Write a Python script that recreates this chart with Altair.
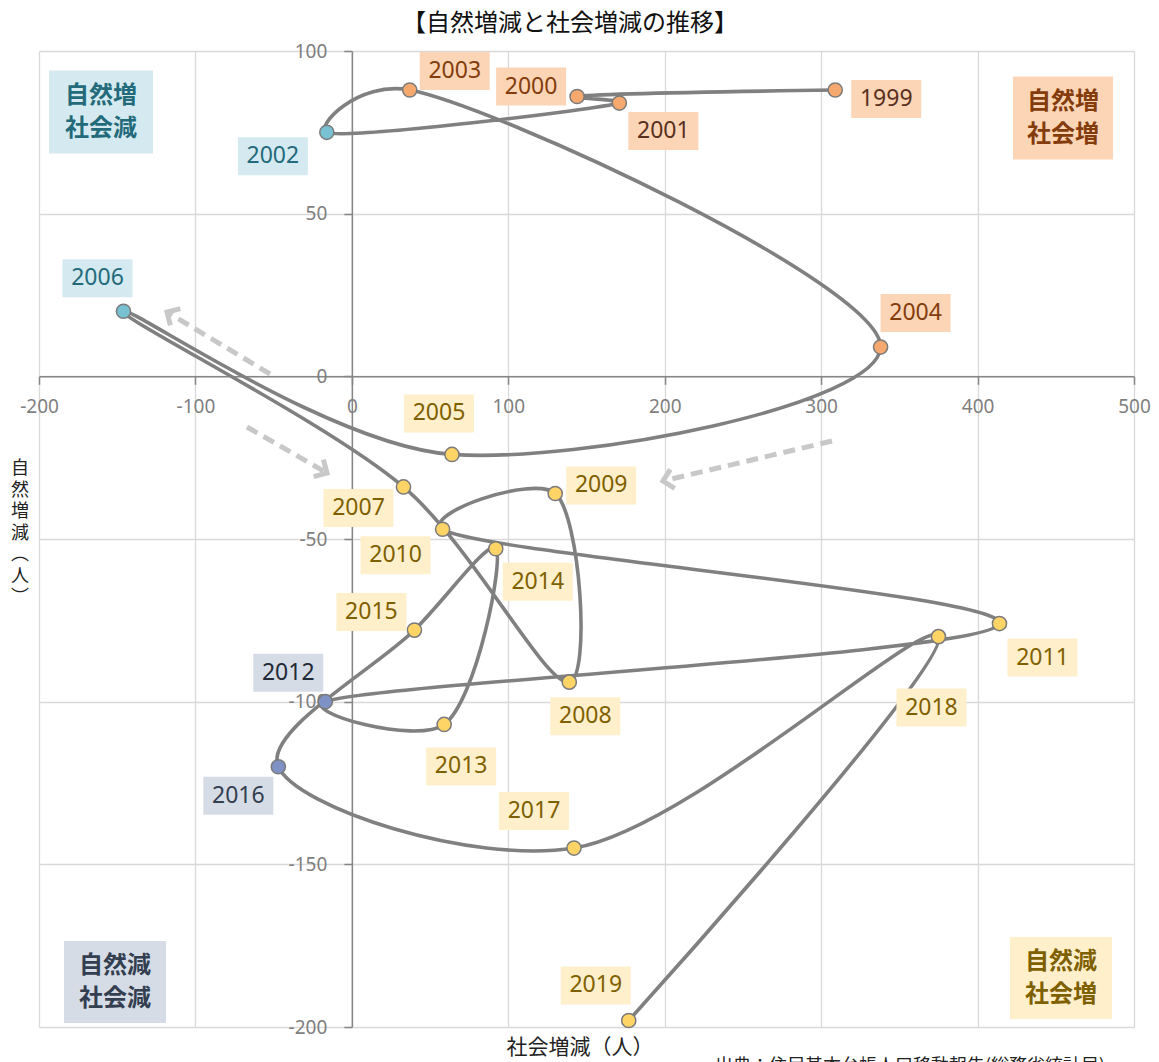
import altair as alt
import pandas as pd

# ---- data ----
years = list(range(1999, 2020))
social = [309, 144, 171, -16, 37, 338, 64, -146, 33, 139, 130, 58, 414, -17, 59, 92, 40, -47, 142, 375, 177]
natural = [88, 86, 84, 75, 88, 9, -24, 20, -34, -94, -36, -47, -76, -100, -107, -53, -78, -120, -145, -80, -198]

# label placement offsets in pixels (relative to point)
label_dx = [51, -46, 44, -54, 45, 35, -13, -26, -45, 16, 46, -47, 43, -37, 17, 42, -43, -40, -40, -7, -33]
label_dy = [9, -10, 28, 24, -19, -34, -41, -33, 21, 34, -8, 26, 34, -29, 42, 33, -18, 29, -37, 71, -35]
text_colors = ["#5a2f1f", "#843c0c", "#5a2f1f", "#236a7a", "#843c0c", "#843c0c", "#7f6000",
               "#236a7a", "#7f6000", "#7f6000", "#7f6000", "#7f6000", "#7f6000", "#222a35",
               "#7f6000", "#7f6000", "#7f6000", "#333f50", "#7f6000", "#7f6000", "#7f6000"]

W, H = 1095, 976
XD = [-200, 500]
YD = [-200, 100]
UX = (XD[1] - XD[0]) / W
UY = (YD[1] - YD[0]) / H

# key = sign(natural) + sign(social)
marker_fill = {"pp": "#F6A96E", "pn": "#78C1D3", "np": "#FFD467", "nn": "#7F92C5"}
box_fill = {"pp": "#FBD5B6", "pn": "#D4EAF0", "np": "#FFF0CB", "nn": "#D6DCE6"}

df = pd.DataFrame({"year": years, "social": social, "natural": natural,
                   "dx": label_dx, "dy": label_dy, "tcolor": text_colors})
df["quad"] = [("p" if n > 0 else "n") + ("p" if s > 0 else "n") for s, n in zip(social, natural)]
df["fill"] = df["quad"].map(marker_fill)
df["box"] = df["quad"].map(box_fill)
df["lx"] = df["social"] + df["dx"] * UX
df["ly"] = df["natural"] - df["dy"] * UY
df["bx1"] = df["lx"] - 35 * UX
df["bx2"] = df["lx"] + 35 * UX
df["by1"] = df["ly"] - 19 * UY
df["by2"] = df["ly"] + 19 * UY
df["label"] = df["year"].astype(str)

xscale = alt.Scale(domain=XD, nice=False, zero=False)
yscale = alt.Scale(domain=YD, nice=False, zero=False)
xvals = list(range(-200, 501, 100))
yvals = list(range(-200, 101, 50))

grid_x = alt.Axis(values=xvals, grid=True, gridColor="#d9d9d9", gridWidth=1.3,
                  labels=False, ticks=False, domain=False, title=None, orient="bottom")
grid_y = alt.Axis(values=yvals, grid=True, gridColor="#d9d9d9", gridWidth=1.3,
                  labels=False, ticks=False, domain=False, title=None, orient="left")

lab_x = alt.Axis(values=xvals, grid=False, orient="bottom", title=None,
                 offset=-(H * (0 - YD[0]) / (YD[1] - YD[0])),
                 labelExpr="'' + datum.value",
                 labelFont="Noto Sans", labelFontSize=19, labelColor="#7f7f7f",
                 labelPadding=13, labelFlush=False, labelOverlap=False,
                 tickColor="#868686", tickSize=8, tickWidth=1.5,
                 domainColor="#868686", domainWidth=1.5)
lab_y = alt.Axis(values=yvals, grid=False, orient="left", title=None,
                 offset=-(W * (0 - XD[0]) / (XD[1] - XD[0])),
                 labelExpr="'' + datum.value",
                 labelFont="Noto Sans", labelFontSize=19, labelColor="#7f7f7f",
                 labelPadding=17, labelFlush=False, labelOverlap=False,
                 tickColor="#868686", tickSize=8, tickWidth=1.5,
                 domainColor="#868686", domainWidth=1.5)

base = alt.Chart(df)

line = base.mark_line(interpolate="catmull-rom", tension=0.3, color="#808080", strokeWidth=3.6).encode(
    x=alt.X("social:Q", scale=xscale, axis=grid_x),
    y=alt.Y("natural:Q", scale=yscale, axis=grid_y),
    order=alt.Order("year:Q"),
)

points = base.mark_point(filled=True, size=200, stroke="#7a7a7a", strokeWidth=1.5, opacity=1).encode(
    x=alt.X("social:Q", scale=xscale, axis=lab_x),
    y=alt.Y("natural:Q", scale=yscale, axis=lab_y),
    fill=alt.Fill("fill:N", scale=None),
)

boxes = base.mark_rect().encode(
    x=alt.X("bx1:Q", scale=xscale, axis=None),
    x2="bx2:Q",
    y=alt.Y("by1:Q", scale=yscale, axis=None),
    y2="by2:Q",
    color=alt.Color("box:N", scale=None),
)

labels = base.mark_text(font="Noto Sans", fontSize=23, baseline="middle", align="center").encode(
    x=alt.X("lx:Q", scale=xscale, axis=None),
    y=alt.Y("ly:Q", scale=yscale, axis=None),
    text="label:N",
    color=alt.Color("tcolor:N", scale=None),
)

one = pd.DataFrame({"k": [0]})

# dashed arrows (pixel annotations)
arrows = [((231, 323), (128, 261), 211), ((208, 376), (288, 422), 30), ((793, 390), (624, 430), 167)]
arrow_layers = []
for (x1, y1), (x2, y2), ang in arrows:
    arrow_layers.append(alt.Chart(one).mark_rule(color="#c8c8c8", strokeWidth=5, strokeDash=[12, 7]).encode(
        x=alt.value(x1), y=alt.value(y1), x2=alt.value(x2), y2=alt.value(y2)))
    arrow_layers.append(alt.Chart(one).mark_point(shape="M-1,-1L0,0L-1,1", filled=False, size=380,
                                                  strokeWidth=5, color="#c8c8c8", angle=ang, opacity=1).encode(
        x=alt.value(x2), y=alt.value(y2)))

# quadrant labels
quads = [
    (62, 61, 104, 83, ["自然増", "社会減"], "#D4EAF0", "#236a7a"),
    (1024, 67, 100, 83, ["自然増", "社会増"], "#FBD5B6", "#843c0c"),
    (76, 931, 102, 82, ["自然減", "社会減"], "#D6DCE6", "#333f50"),
    (1022, 927, 102, 82, ["自然減", "社会増"], "#FFF0CB", "#7f6000"),
]
quad_layers = []
for cx, cy, bw, bh, txt, bf, tc in quads:
    quad_layers.append(alt.Chart(one).mark_rect(color=bf).encode(
        x=alt.value(cx - bw / 2), x2=alt.value(cx + bw / 2),
        y=alt.value(cy - bh / 2), y2=alt.value(cy + bh / 2)))
    quad_layers.append(alt.Chart(one).mark_text(font="Noto Sans CJK JP", fontSize=24, fontWeight="bold",
                                                color=tc, lineHeight=33, baseline="middle", align="center").encode(
        x=alt.value(cx), y=alt.value(cy - 16), text=alt.value(txt)))

title = alt.Chart(one).mark_text(font="Noto Sans CJK JP", fontSize=24, color="#111111",
                                 baseline="middle", align="center").encode(
    x=alt.value(531), y=alt.value(-27), text=alt.value("【自然増減と社会増減の推移】"))
xtitle = alt.Chart(one).mark_text(font="Noto Sans CJK JP", fontSize=21, color="#222222",
                                  baseline="middle", align="center").encode(
    x=alt.value(541), y=alt.value(997), text=alt.value("社会増減（人）"))
ytitle = alt.Chart(one).mark_text(font="Noto Sans CJK JP", fontSize=18, color="#222222",
                                  baseline="middle", align="center", lineHeight=21.5).encode(
    x=alt.value(-19), y=alt.value(418), text=alt.value(["自", "然", "増", "減", "︵", "人", "︶"]))
source = alt.Chart(one).mark_text(font="Noto Sans CJK JP", fontSize=18, color="#222222",
                                  baseline="middle", align="left").encode(
    x=alt.value(676), y=alt.value(1016), text=alt.value("出典：住民基本台帳人口移動報告(総務省統計局)"))

chart = alt.layer(
    line, *arrow_layers, points, boxes, labels, *quad_layers, title, xtitle, ytitle, source
).resolve_axis(x="independent", y="independent").properties(
    width=W, height=H,
    autosize=alt.AutoSizeParams(type="none"),
    padding={"left": 31, "top": 43, "right": 17, "bottom": 35},
).configure_view(strokeWidth=0)

chart.save("out.html", embed_options={"renderer": "svg", "actions": False})
